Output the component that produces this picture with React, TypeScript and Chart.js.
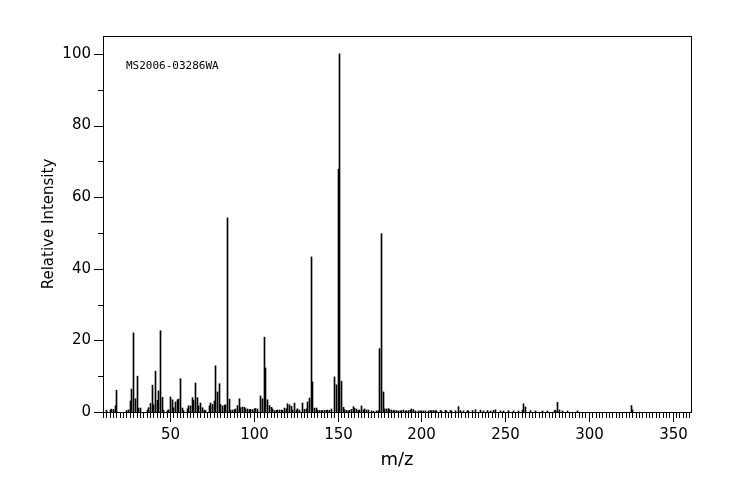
import React, { useEffect, useRef } from "react";
import { Chart, registerables } from "chart.js";

Chart.register(...registerables);

// ---- data ----
const mzValues: number[] = [
  12, 14, 15, 16, 17, 18, 24, 25, 26, 27, 28, 29, 30, 31, 32, 36, 37, 38, 39, 40,
  41, 42, 43, 44, 45, 46, 48, 49, 50, 51, 52, 53, 54, 55, 56, 57, 58, 60, 61, 62,
  63, 64, 65, 66, 67, 68, 69, 70, 71, 73, 74, 75, 76, 77, 78, 79, 80, 81, 82, 83,
  84, 85, 86, 87, 88, 89, 90, 91, 92, 93, 94, 95, 96, 97, 98, 99, 100, 101, 102, 104,
  105, 106, 107, 108, 109, 110, 111, 112, 113, 114, 115, 116, 117, 118, 119, 120, 121, 122, 123, 124,
  125, 126, 127, 129, 130, 131, 132, 133, 134, 135, 136, 137, 138, 139, 140, 141, 142, 143, 144, 145,
  146, 148, 149, 150, 151, 152, 153, 154, 155, 156, 157, 158, 159, 160, 161, 162, 163, 164, 165, 166,
  167, 168, 170, 171, 173, 174, 175, 176, 177, 178, 179, 180, 181, 182, 183, 184, 185, 186, 187, 188,
  189, 190, 191, 192, 193, 194, 195, 196, 198, 199, 200, 201, 202, 204, 205, 206, 207, 208, 209, 211,
  212, 214, 215, 217, 218, 220, 222, 223, 225, 227, 228, 230, 232, 235, 237, 239, 241, 243, 244, 247,
  249, 252, 255, 258, 260, 261, 262, 265, 268, 272, 275, 279, 280, 281, 282, 284, 287, 293, 325, 326,
];

const relIntensity: number[] = [
  0.5, 0.6, 0.8, 0.7, 1.7, 6.1, 0.4, 0.6, 3.1, 6.4, 22.1, 3.7, 10.0, 1.1, 1.1, 0.5, 1.2, 2.4, 7.5, 2.0,
  11.4, 3.3, 5.9, 22.7, 4.1, 0.5, 0.4, 0.6, 4.2, 3.4, 1.2, 2.8, 3.4, 3.6, 9.3, 1.1, 0.4, 0.9, 1.7, 1.7,
  4.0, 3.3, 8.1, 4.0, 1.7, 2.5, 1.2, 0.55, 0.4, 1.7, 2.5, 2.1, 3.1, 12.9, 5.6, 7.9, 2.1, 1.7, 1.9, 2.0,
  54.2, 3.6, 0.55, 0.55, 0.65, 0.85, 1.8, 3.7, 1.2, 1.4, 1.3, 0.9, 0.85, 0.65, 0.75, 0.65, 0.85, 1.0, 0.85, 4.5,
  3.7, 20.9, 12.3, 3.4, 1.8, 1.3, 0.85, 0.4, 0.45, 0.55, 0.55, 0.55, 0.45, 1.1, 0.9, 2.3, 2.0, 1.6, 0.55, 2.5,
  0.55, 0.9, 0.55, 2.5, 0.75, 0.85, 2.8, 3.9, 43.3, 8.4, 1.1, 1.1, 0.55, 0.4, 0.4, 0.4, 0.45, 0.45, 0.55, 0.45,
  0.85, 9.8, 7.6, 67.8, 100, 8.6, 1.3, 0.65, 0.45, 0.3, 0.45, 0.75, 1.5, 1.0, 0.85, 0.45, 0.55, 1.7, 0.55, 0.85,
  0.55, 0.55, 0.3, 0.2, 0.3, 0.4, 17.7, 49.8, 5.6, 0.85, 0.85, 0.95, 0.65, 0.55, 0.4, 0.4, 0.4, 0.3, 0.3, 0.4,
  0.55, 0.3, 0.3, 0.4, 0.55, 0.85, 0.65, 0.3, 0.3, 0.3, 0.3, 0.3, 0.3, 0.3, 0.45, 0.35, 0.45, 0.4, 0.3, 0.4,
  0.3, 0.45, 0.3, 0.4, 0.3, 0.35, 1.5, 0.4, 0.3, 0.4, 0.3, 0.4, 0.65, 0.5, 0.3, 0.4, 0.3, 0.5, 0.6, 0.3,
  0.3, 0.4, 0.3, 0.3, 0.5, 2.3, 1.4, 0.4, 0.3, 0.3, 0.3, 0.4, 0.5, 2.7, 0.6, 0.3, 0.3, 0.3, 1.8, 0.6,
];

const xTickLabels: number[] = [50, 100, 150, 200, 250, 300, 350];
const yTickLabels: number[] = [0, 20, 40, 60, 80, 100];
const xAxisTitle = "m/z";
const yAxisTitle = "Relative Intensity";
const sampleId = "MS2006-03286WA";

const X_MIN = 10;
const X_MAX = 361;
const Y_MIN = 0;
const Y_MAX = 105;

const FONT = '"DejaVu Sans", "Liberation Sans", sans-serif';

export default function App() {
  const canvasRef = useRef<HTMLCanvasElement | null>(null);

  useEffect(() => {
    const canvas = canvasRef.current;
    if (!canvas) return;

    const framePlugin = {
      id: "spectrumFrame",
      beforeDatasetsDraw(chart: any) {
        // snap each bar (placed by the x scale) onto a whole pixel column
        const meta = chart.getDatasetMeta(0);
        meta.data.forEach((el: any) => {
          const frac = el.x - Math.floor(el.x);
          if (frac !== 0.5) el.x = Math.round(el.x) + 0.5;
        });
      },
      afterDraw(chart: any) {
        const { ctx, chartArea: a, scales } = chart;
        const xs = scales.x;
        const ys = scales.y;
        ctx.save();
        ctx.strokeStyle = "#000";
        ctx.lineWidth = 1;
        ctx.strokeRect(a.left + 0.5, a.top + 0.5, a.right - a.left, a.bottom - a.top);
        ctx.beginPath();
        for (let v = X_MIN; v <= 360; v += 2) {
          const px = Math.round(xs.getPixelForValue(v)) + 0.5;
          const len = v % 50 === 0 ? 10 : 6;
          ctx.moveTo(px, a.bottom);
          ctx.lineTo(px, a.bottom + len);
        }
        for (let v = 0; v <= 100; v += 10) {
          const py = Math.round(ys.getPixelForValue(v)) + 0.5;
          const len = v % 20 === 0 ? 9 : 5;
          ctx.moveTo(a.left, py);
          ctx.lineTo(a.left - len, py);
        }
        ctx.stroke();
        ctx.fillStyle = "#000";
        // x tick labels, positioned by the x scale
        ctx.font = `15px ${FONT}`;
        ctx.textAlign = "center";
        ctx.textBaseline = "middle";
        xTickLabels.forEach((v) => {
          ctx.fillText(String(v), Math.round(xs.getPixelForValue(v)) + 0.5, a.bottom + 23);
        });
        ctx.font = '11px "DejaVu Sans Mono", monospace';
        ctx.textAlign = "left";
        ctx.textBaseline = "middle";
        ctx.fillText(sampleId, a.left + 23, a.top + 30);
        ctx.restore();
      },
    };

    const chart = new Chart(canvas, {
      type: "bar",
      data: {
        datasets: [
          {
            data: mzValues.map((m, i) => ({ x: m, y: relIntensity[i] })),
            backgroundColor: "#000",
            borderWidth: 0,
            barThickness: 1,
          },
        ],
      },
      options: {
        responsive: false,
        animation: false,
        devicePixelRatio: 1,
        layout: { padding: { left: 0, right: 53, top: 36, bottom: 0 } },
        plugins: { legend: { display: false }, tooltip: { enabled: false } },
        scales: {
          x: {
            type: "linear",
            min: X_MIN,
            max: X_MAX,
            offset: false,
            grid: { display: false, drawTicks: false },
            border: { display: false },
            ticks: { display: false, stepSize: 50, includeBounds: false },
            title: {
              display: true,
              text: xAxisTitle,
              color: "#000",
              font: { family: FONT, size: 18 },
              padding: { top: 0, bottom: 29 },
            },
            afterFit: (s: any) => {
              s.height = 88;
            },
          },
          y: {
            type: "linear",
            min: Y_MIN,
            max: Y_MAX,
            grid: { display: false, drawTicks: false },
            border: { display: false },
            ticks: {
              stepSize: 20,
              includeBounds: false,
              padding: 12,
              color: "#000",
              font: { family: FONT, size: 15 },
              callback: (v: any) => (yTickLabels.includes(Number(v)) ? String(v) : ""),
            },
            title: {
              display: true,
              text: yAxisTitle,
              color: "#000",
              font: { family: FONT, size: 15 },
              padding: { top: 40, bottom: 0 },
            },
            afterFit: (s: any) => {
              s.width = 103;
            },
          },
        },
      },
      plugins: [framePlugin],
    } as any);

    return () => chart.destroy();
  }, []);

  return (
    <div style={{ position: "fixed", left: 0, top: 0, width: 744, height: 500, background: "#fff" }}>
      <canvas ref={canvasRef} width={744} height={500} style={{ display: "block" }} />
    </div>
  );
}
